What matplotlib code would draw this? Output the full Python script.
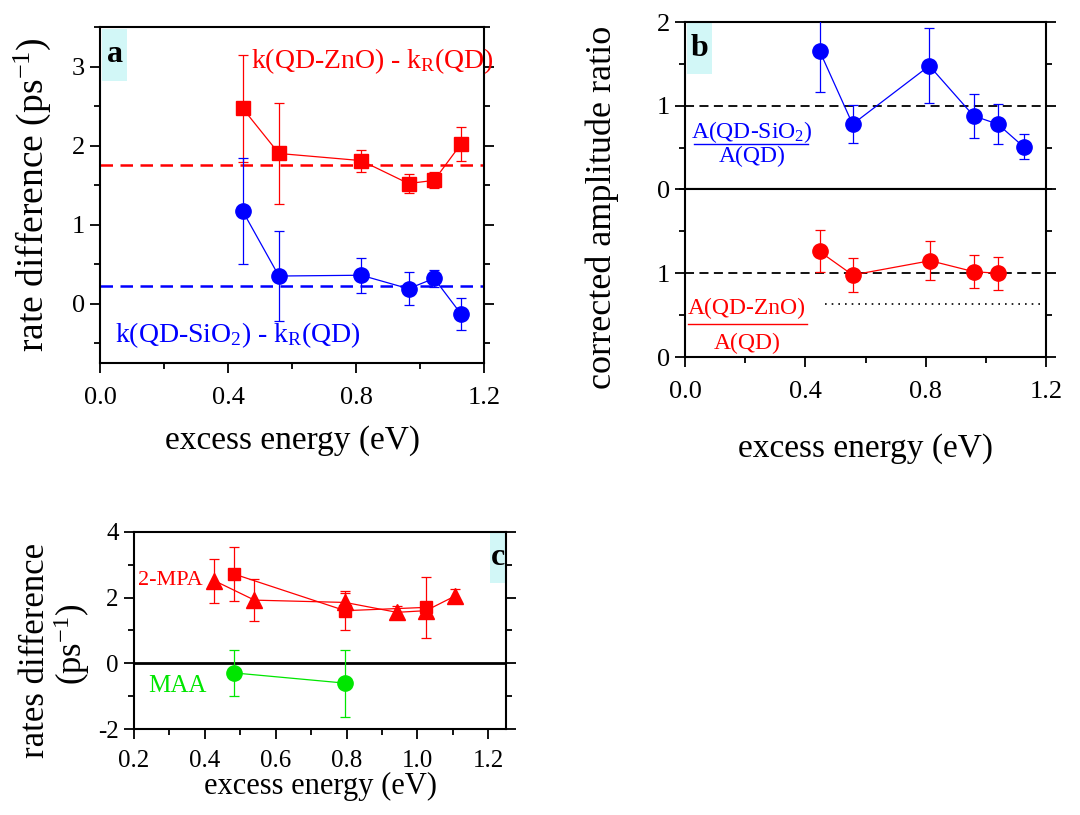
import matplotlib
matplotlib.use('Agg')
import matplotlib.pyplot as plt
from matplotlib.lines import Line2D
from matplotlib.patches import Rectangle
from matplotlib.ticker import MultipleLocator
import numpy as np

plt.rcParams['font.family'] = ['Liberation Serif', 'DejaVu Serif']
plt.rcParams['mathtext.fontset'] = 'custom'
plt.rcParams['mathtext.rm'] = 'Liberation Serif'
plt.rcParams['mathtext.it'] = 'Liberation Serif:italic'
plt.rcParams['mathtext.bf'] = 'Liberation Serif:bold'

RED = '#ff0000'
BLUE = '#0000ff'
GREEN = '#00e600'
BOXC = '#d2f7f7'

# panel a: rate differences vs excess energy
a_x = [0.446, 0.559, 0.816, 0.964, 1.044, 1.128]
a_zno = [2.47, 1.90, 1.81, 1.52, 1.56, 2.02]
a_zno_err = [0.68, 0.64, 0.14, 0.12, 0.10, 0.21]
a_sio2 = [1.17, 0.35, 0.36, 0.19, 0.32, -0.13]
a_sio2_err = [0.67, 0.57, 0.22, 0.21, 0.11, 0.20]
a_zno_mean = 1.76
a_sio2_mean = 0.22

# panel b: corrected amplitude ratios
b_x_sio2 = [0.447, 0.557, 0.812, 0.959, 1.040, 1.125]
b_sio2 = [1.66, 0.78, 1.48, 0.88, 0.78, 0.51]
b_sio2_err = [0.50, 0.23, 0.45, 0.26, 0.24, 0.15]
b_x_zno = [0.447, 0.557, 0.815, 0.959, 1.040]
b_zno = [1.26, 0.98, 1.15, 1.02, 1.00]
b_zno_err = [0.25, 0.20, 0.23, 0.20, 0.20]
b_dotted_y = 0.64
b_dotted_x = [0.465, 1.19]

# panel c: other ligands
c_x_tri = [0.427, 0.540, 0.796, 0.942, 1.024, 1.107]
c_tri = [2.51, 1.92, 1.85, 1.55, 1.60, 2.05]
c_tri_err = [0.67, 0.63, 0.30, 0.20, 0.15, 0.20]
c_x_sq = [0.483, 0.796, 1.024]
c_sq = [2.71, 1.60, 1.70]
c_sq_err = [0.83, 0.60, 0.92]
c_x_maa = [0.483, 0.796]
c_maa = [-0.29, -0.60]
c_maa_err = [0.70, 1.02]

TICK_FS = 19
LABEL_FS = 24

fig = plt.figure(figsize=(10.8, 8.15), dpi=100)


def style_axes(ax, lw=1.5):
    for s in ax.spines.values():
        s.set_linewidth(lw)
    ax.tick_params(which='both', direction='out', width=1.3, labelsize=TICK_FS,
                   top=False, right=True, labelright=False)
    ax.tick_params(which='major', length=7)
    ax.tick_params(which='minor', length=4)
    ax.tick_params(axis='y', which='major', pad=4)


def label_box(ax, x, y, w, h, s):
    ax.add_patch(Rectangle((x, y), w, h, transform=ax.transAxes,
                           facecolor=BOXC, edgecolor='none', zorder=1))
    ax.text(x + w / 2, y + h / 2, s, transform=ax.transAxes, ha='center',
            va='center', fontsize=23, fontweight='bold', zorder=2)


eb = dict(elinewidth=0.9, capsize=3.5, capthick=0.9, lw=0.9)
hyph = lambda v, p: f'{v:.0f}'.replace('\u2212', '-')

# ---------- panel a ----------
ax = fig.add_axes([0.0926, 0.5546, 0.3556, 0.4123])
ax.axhline(a_zno_mean, color=RED, ls=(0, (5, 3)), lw=1.8, zorder=2)
ax.axhline(a_sio2_mean, color=BLUE, ls=(0, (5, 3)), lw=1.8, zorder=2)
ax.errorbar(a_x, a_zno, yerr=a_zno_err, color=RED, marker='s', ms=10, **eb, zorder=3)
ax.errorbar(a_x, a_sio2, yerr=a_sio2_err, color=BLUE, marker='o', ms=11, **eb, zorder=3)
ax.set_xlim(0, 1.2)
ax.set_ylim(-0.75, 3.5)
ax.xaxis.set_major_locator(MultipleLocator(0.4))
ax.xaxis.set_minor_locator(MultipleLocator(0.2))
ax.yaxis.set_major_locator(MultipleLocator(1))
ax.yaxis.set_minor_locator(MultipleLocator(0.5))
ax.xaxis.set_major_formatter(lambda v, p: f'{v:.1f}')
ax.yaxis.set_major_formatter(hyph)
style_axes(ax)
ax.tick_params(axis='x', pad=10)
ax.set_xlabel('excess energy (eV)', fontsize=LABEL_FS, labelpad=12)
ax.set_ylabel('rate difference (ps$^{-1}$)', fontsize=27, labelpad=13)
label_box(ax, 0.005, 0.84, 0.066, 0.155, 'a')
ax.text(0.473, 3.07, 'k(QD-ZnO) - k$_\\mathrm{R}$(QD)', color=RED, fontsize=20,
        ha='left', va='center')
ax.text(0.047, -0.40, 'k(QD-SiO$_2$) - k$_\\mathrm{R}$(QD)', color=BLUE, fontsize=20,
        ha='left', va='center')

# ---------- panel b ----------
bt = fig.add_axes([0.6343, 0.7677, 0.3343, 0.2049])
bb = fig.add_axes([0.6343, 0.5616, 0.3343, 0.2061])
for b in (bt, bb):
    b.set_xlim(0, 1.2)
    b.set_ylim(0, 2)
    b.axhline(1, color='black', ls=(0, (5, 3)), lw=1.3, zorder=2)
    b.xaxis.set_major_locator(MultipleLocator(0.4))
    b.xaxis.set_minor_locator(MultipleLocator(0.2))
    b.yaxis.set_major_locator(MultipleLocator(1))
    b.yaxis.set_minor_locator(MultipleLocator(0.5))
    b.xaxis.set_major_formatter(lambda v, p: f'{v:.1f}')
    style_axes(b)
bt.tick_params(axis='x', which='both', labelbottom=False, length=9)
bb.set_yticks([0, 1])
bb.tick_params(axis='x', pad=10)
bt.errorbar(b_x_sio2, b_sio2, yerr=b_sio2_err, color=BLUE, marker='o', ms=11, **eb, zorder=3)
bb.errorbar(b_x_zno, b_zno, yerr=b_zno_err, color=RED, marker='o', ms=11, **eb, zorder=3)
bb.plot(b_dotted_x, [b_dotted_y] * 2, color='black', ls=(0, (1, 3)), lw=1.2)
bb.set_xlabel('excess energy (eV)', fontsize=LABEL_FS, labelpad=22)
fig.text(0.558, 0.746, 'corrected amplitude ratio', rotation=90, fontsize=26,
         ha='center', va='center')
label_box(bt, 0.005, 0.69, 0.07, 0.31, 'b')

# fraction labels
bt.text(0.185, 0.345, 'A(QD-SiO$_2$)', transform=bt.transAxes, color=BLUE,
        fontsize=17, ha='center', va='center')
bt.add_line(Line2D([0.025, 0.341], [0.271, 0.271], transform=bt.transAxes,
                   color=BLUE, lw=1))
bt.text(0.185, 0.195, 'A(QD)', transform=bt.transAxes, color=BLUE,
        fontsize=17, ha='center', va='center')
bb.text(0.172, 0.292, 'A(QD-ZnO)', transform=bb.transAxes, color=RED,
        fontsize=17, ha='center', va='center')
bb.add_line(Line2D([0.008, 0.337], [0.198, 0.198], transform=bb.transAxes,
                   color=RED, lw=1))
bb.text(0.172, 0.083, 'A(QD)', transform=bb.transAxes, color=RED,
        fontsize=17, ha='center', va='center')

# ---------- panel c ----------
cx = fig.add_axes([0.1241, 0.1052, 0.3444, 0.2425])
cx.axhline(0, color='black', lw=2, zorder=2)
cx.errorbar(c_x_tri, c_tri, yerr=c_tri_err, color=RED, marker='^', ms=11, **eb, zorder=3)
cx.errorbar(c_x_sq, c_sq, yerr=c_sq_err, color=RED, marker='s', ms=9, **eb, zorder=3)
cx.errorbar(c_x_maa, c_maa, yerr=c_maa_err, color=GREEN, marker='o', ms=11, **eb, zorder=3)
cx.set_xlim(0.2, 1.25)
cx.set_ylim(-2, 4)
cx.xaxis.set_major_locator(MultipleLocator(0.2))
cx.xaxis.set_minor_locator(MultipleLocator(0.1))
cx.yaxis.set_major_locator(MultipleLocator(2))
cx.yaxis.set_minor_locator(MultipleLocator(1))
cx.xaxis.set_major_formatter(lambda v, p: f'{v:.1f}')
cx.yaxis.set_major_formatter(hyph)
style_axes(cx)
cx.tick_params(labelsize=18)
cx.tick_params(axis='x', pad=8)
cx.set_xlabel('excess energy (eV)', fontsize=22, labelpad=0)
fig.text(36 / 1080, 1 - 650 / 815, 'rates difference', rotation=90,
         fontsize=25, ha='center', va='center')
fig.text(72 / 1080, 1 - 644 / 815, '(ps$^{-1}$)', rotation=90,
         fontsize=25, ha='center', va='center')
label_box(cx, 0.958, 0.74, 0.042, 0.26, 'c')
cx.text(0.212, 2.53, '2-MPA', color=RED, fontsize=16, ha='left', va='center')
cx.text(0.24, -0.7, 'MAA', color=GREEN, fontsize=18, ha='left', va='center')

fig.savefig('out.png', dpi=100)
